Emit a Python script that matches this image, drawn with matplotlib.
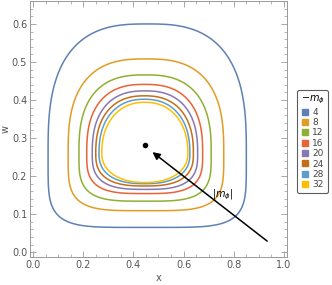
import matplotlib.pyplot as plt
import numpy as np
from matplotlib.lines import Line2D
from matplotlib.ticker import MultipleLocator

# contour levels (-m_phi) and the extents of each closed curve
levels = [4, 8, 12, 16, 20, 24, 28, 32]
left = [0.06, 0.14, 0.183, 0.214, 0.236, 0.25, 0.263, 0.274]
right = [0.85, 0.76, 0.71, 0.676, 0.656, 0.639, 0.625, 0.617]
bottom = [0.065, 0.109, 0.134, 0.154, 0.165, 0.174, 0.18, 0.183]
top = [0.60, 0.508, 0.466, 0.441, 0.424, 0.411, 0.402, 0.394]
colors = ['#5E81B5', '#E19C24', '#8FB032', '#EB6235',
          '#8778B3', '#C56E1A', '#5D9EC7', '#FFBF00']

center = (0.446, 0.281)
arrow_tail = (0.933, 0.029)
arrow_head = (0.476, 0.263)


def blob(l, r, b, t, cy, n_top, n_bot):
    # rounded closed curve: superellipse quarters joined at the widest level cy
    cx = (l + r) / 2
    th = np.linspace(-np.pi / 2, 1.5 * np.pi, 1440, endpoint=False)
    c, s = np.cos(th), np.sin(th)
    n = np.where(s >= 0, n_top, n_bot)
    a = np.where(c >= 0, r - cx, cx - l)
    h = np.where(s >= 0, t - cy, cy - b)
    xs = cx + a * np.sign(c) * np.abs(c) ** (2 / n)
    ys = cy + h * np.sign(s) * np.abs(s) ** (2 / n)
    return xs, ys


fig = plt.figure(figsize=(3.32, 2.85), dpi=100)
ax = fig.add_axes([0.0904, 0.098, 0.774, 0.898])

for i, m in enumerate(levels):
    f = i / (len(levels) - 1)
    xs, ys = blob(left[i], right[i], bottom[i], top[i], 0.26,
                  n_top=2.8 - 0.6 * f, n_bot=5.0 - 2.8 * f ** 0.6)
    ax.fill(xs, ys, fill=False, edgecolor=colors[i], lw=1.1, joinstyle='round')

ax.plot(*center, 'o', color='k', ms=3)
ax.annotate('', xy=arrow_head, xytext=arrow_tail,
            arrowprops=dict(arrowstyle='-|>', color='k', lw=1.1,
                            mutation_scale=11, shrinkA=0, shrinkB=0))
ax.text(0.757, 0.15, r'$|m_\phi|$', fontsize=7, ha='center', va='center')

ax.set_xlim(-0.012, 1.012)
ax.set_ylim(-0.013, 0.66)
ax.xaxis.set_major_locator(MultipleLocator(0.2))
ax.xaxis.set_minor_locator(MultipleLocator(0.05))
ax.yaxis.set_major_locator(MultipleLocator(0.1))
ax.yaxis.set_minor_locator(MultipleLocator(0.02))
ax.xaxis.set_major_formatter(plt.FuncFormatter(lambda v, p: f'{v:.1f}'))
ax.yaxis.set_major_formatter(plt.FuncFormatter(lambda v, p: f'{v:.1f}'))
ax.tick_params(which='both', direction='in', top=True, right=True,
               color='#999999', labelsize=7, labelcolor='#555555', pad=2)
ax.tick_params(which='major', length=4, width=0.6)
ax.tick_params(which='minor', length=2, width=0.5)
for sp in ax.spines.values():
    sp.set_color('#999999')
    sp.set_linewidth(0.7)
ax.set_xlabel('x', fontsize=7, color='#555555', labelpad=2)
ax.set_ylabel('w', fontsize=7, color='#555555', labelpad=1)

handles = [Line2D([], [], marker='s', ls='none', color=c, ms=4.5) for c in colors]
leg = fig.legend(handles, [str(m) for m in levels], title=r'$-m_\phi$',
                 loc='upper left', bbox_to_anchor=(0.881, 0.70),
                 fontsize=6.5, title_fontsize=7, frameon=True,
                 handlelength=0.8, handletextpad=0.4, labelspacing=0.15,
                 borderpad=0.4, fancybox=True)
leg.get_frame().set_edgecolor('#333333')
leg.get_frame().set_linewidth(0.8)
for t in leg.get_texts():
    t.set_color('#444444')

fig.savefig('out.png', dpi=100)
